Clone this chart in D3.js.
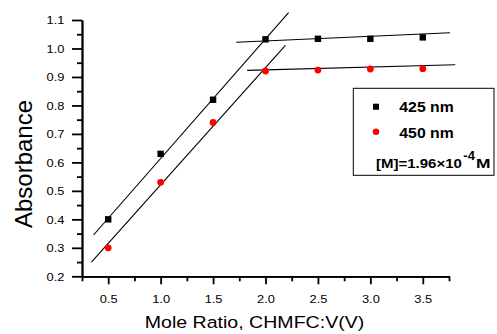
<!DOCTYPE html>
<html>
<head>
<meta charset="utf-8">
<script src="https://cdn.jsdelivr.net/npm/d3@7/dist/d3.min.js"></script>
<style>
  html, body { margin: 0; padding: 0; background: #fff; }
  svg { display: block; }
  text { font-family: "Liberation Sans", Arial, sans-serif; fill: #000; }
</style>
</head>
<body>
<svg id="chart" width="497" height="334"></svg>
<script>
// Mole ratio values (x) and absorbance readings at the two wavelengths
const moleRatio = [0.5, 1.0, 1.5, 2.0, 2.5, 3.0, 3.5];
const abs425 = [0.40, 0.63, 0.82, 1.032, 1.034, 1.034, 1.039];
const abs450 = [0.30, 0.53, 0.74, 0.921, 0.924, 0.928, 0.929];

// Fitted straight lines: [x, y] end points of each segment
const rise425 = [[0.36, 0.345], [2.22, 1.126]];
const rise450 = [[0.34, 0.250], [2.19, 1.011]];
const flat425 = [[1.72, 1.022], [3.76, 1.055]];
const flat450 = [[1.825, 0.923], [3.81, 0.943]];

// Axis ticks and labels
const xMajor = [0.5, 1.0, 1.5, 2.0, 2.5, 3.0, 3.5];
const xMinor = [0.25, 0.75, 1.25, 1.75, 2.25, 2.75, 3.25, 3.75];
const xTickLabels = ["0.5", "1.0", "1.5", "2.0", "2.5", "3.0", "3.5"];
const yMajor = [0.2, 0.3, 0.4, 0.5, 0.6, 0.7, 0.8, 0.9, 1.0, 1.1];
const yMinor = [0.25, 0.35, 0.45, 0.55, 0.65, 0.75, 0.85, 0.95, 1.05];
const yTickLabels = ["0.2", "0.3", "0.4", "0.5", "0.6", "0.7", "0.8", "0.9", "1.0", "1.1"];

const seriesNames = ["425 nm", "450 nm"];
const seriesColors = ["#000000", "#ff0000"];
const xTitle = "Mole Ratio, CHMFC:V(V)";
const yTitle = "Absorbance";

const svg = d3.select("#chart");

const x = d3.scaleLinear().domain([0.25, 3.75]).range([82, 449]);
const y = d3.scaleLinear().domain([0.2, 1.1]).range([276.3, 20]);

// ---- axes ----
const axisStroke = 1.8;

const xMinorG = svg.append("g").attr("transform", `translate(0,${y(0.2)})`)
  .call(d3.axisBottom(x).tickValues(xMinor).tickSize(5).tickSizeOuter(0).tickFormat(""));
const xMajorG = svg.append("g").attr("transform", `translate(0,${y(0.2)})`)
  .call(d3.axisBottom(x).tickValues(xMajor).tickSize(8).tickSizeOuter(0)
    .tickFormat((d, i) => xTickLabels[i]));

const yMinorG = svg.append("g").attr("transform", `translate(${x(0.25)},0)`)
  .call(d3.axisLeft(y).tickValues(yMinor).tickSize(5).tickSizeOuter(0).tickFormat(""));
const yMajorG = svg.append("g").attr("transform", `translate(${x(0.25)},0)`)
  .call(d3.axisLeft(y).tickValues(yMajor).tickSize(10).tickSizeOuter(0)
    .tickFormat((d, i) => yTickLabels[i]));

[xMinorG, xMajorG, yMinorG, yMajorG].forEach(g => {
  g.selectAll("path.domain").attr("stroke", "#000").attr("stroke-width", axisStroke);
  g.selectAll(".tick line").attr("stroke", "#000").attr("stroke-width", axisStroke);
});

xMajorG.selectAll(".tick text")
  .attr("y", null).attr("dy", null)
  .attr("transform", "translate(0,26.2) scale(1.25,1)")
  .attr("font-size", 10.3)
  .attr("fill", "#111");

yMajorG.selectAll(".tick text")
  .attr("x", null).attr("dy", null)
  .attr("text-anchor", "end")
  .attr("transform", "translate(-17.6,3.7) scale(1.25,1)")
  .attr("font-size", 10.3)
  .attr("fill", "#111");

// ---- axis titles ----
svg.append("text")
  .attr("transform", `translate(254.5,328.3) scale(1.2,1)`)
  .attr("text-anchor", "middle")
  .attr("font-size", 16.3)
  .text(xTitle);

svg.append("text")
  .attr("transform", `translate(32,164) rotate(-90)`)
  .attr("text-anchor", "middle")
  .attr("font-size", 24)
  .text(yTitle);

// ---- fit lines ----
const line = d3.line().x(d => x(d[0])).y(d => y(d[1]));
[rise425, rise450, flat425, flat450].forEach(seg => {
  svg.append("path")
    .attr("d", line(seg))
    .attr("fill", "none")
    .attr("stroke", "#000")
    .attr("stroke-width", 1.1);
});

// ---- data markers ----
const sq = 6.4;
svg.append("g").selectAll("rect")
  .data(moleRatio.map((m, i) => [m, abs425[i]]))
  .join("rect")
  .attr("x", d => x(d[0]) - sq / 2)
  .attr("y", d => y(d[1]) - sq / 2)
  .attr("width", sq).attr("height", sq)
  .attr("fill", seriesColors[0]);

svg.append("g").selectAll("circle")
  .data(moleRatio.map((m, i) => [m, abs450[i]]))
  .join("circle")
  .attr("cx", d => x(d[0]))
  .attr("cy", d => y(d[1]))
  .attr("r", 3.4)
  .attr("fill", seriesColors[1]);

// ---- legend ----
const legend = svg.append("g");
legend.append("rect")
  .attr("x", 353.3).attr("y", 88.3)
  .attr("width", 140.7).attr("height", 87)
  .attr("fill", "#fff")
  .attr("stroke", "#000").attr("stroke-width", 1);

legend.append("rect")
  .attr("x", 376 - 3).attr("y", 106.7 - 3)
  .attr("width", 6).attr("height", 6)
  .attr("fill", seriesColors[0]);
legend.append("circle")
  .attr("cx", 376).attr("cy", 131.7).attr("r", 3.3)
  .attr("fill", seriesColors[1]);

legend.append("text")
  .attr("transform", "translate(399.3,112.3) scale(1.13,1)")
  .attr("font-size", 14).attr("font-weight", "bold")
  .text(seriesNames[0]);
legend.append("text")
  .attr("transform", "translate(399.3,137.7) scale(1.13,1)")
  .attr("font-size", 14).attr("font-weight", "bold")
  .text(seriesNames[1]);

legend.append("text")
  .attr("transform", "translate(376,167.7) scale(1.25,1)")
  .attr("font-size", 12).attr("font-weight", "bold")
  .text("[M]=1.96×10");
legend.append("text")
  .attr("transform", "translate(463.3,160)")
  .attr("font-size", 13).attr("font-weight", "bold")
  .text("-4");
legend.append("text")
  .attr("transform", "translate(476,167.7) scale(1.45,1)")
  .attr("font-size", 12).attr("font-weight", "bold")
  .text("M");
</script>
</body>
</html>
